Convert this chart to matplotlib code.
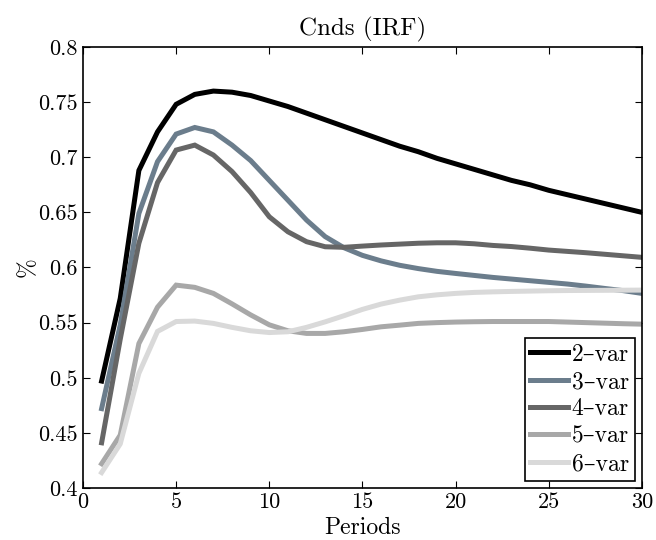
import matplotlib
matplotlib.use("Agg")
import matplotlib.pyplot as plt

plt.rcParams['font.family'] = ['cmr10', 'DejaVu Serif']
plt.rcParams['axes.unicode_minus'] = False
plt.rcParams['mathtext.fontset'] = 'cm'

periods = list(range(1, 31))

var2 = [0.497, 0.572, 0.688, 0.723, 0.748, 0.757, 0.760, 0.759, 0.756, 0.751,
        0.746, 0.740, 0.734, 0.728, 0.722, 0.716, 0.710, 0.705, 0.699, 0.694,
        0.689, 0.684, 0.679, 0.675, 0.670, 0.666, 0.662, 0.658, 0.654, 0.650]
var3 = [0.472, 0.548, 0.649, 0.696, 0.721, 0.727, 0.723, 0.711, 0.697, 0.679,
        0.661, 0.643, 0.628, 0.618, 0.611, 0.606, 0.602, 0.599, 0.5965, 0.5946,
        0.5928, 0.591, 0.5895, 0.588, 0.5865, 0.585, 0.5831, 0.581, 0.579, 0.5765]
var4 = [0.441, 0.535, 0.622, 0.677, 0.7065, 0.711, 0.702, 0.687, 0.668, 0.646,
        0.6324, 0.6234, 0.6188, 0.6183, 0.6194, 0.6204, 0.6212, 0.622, 0.6224, 0.6224,
        0.6215, 0.620, 0.619, 0.6175, 0.6158, 0.6146, 0.6134, 0.612, 0.6106, 0.6092]
var5 = [0.422, 0.448, 0.531, 0.564, 0.584, 0.582, 0.5765, 0.567, 0.557, 0.548,
        0.5426, 0.5402, 0.5402, 0.5417, 0.5438, 0.5462, 0.5477, 0.5493, 0.550, 0.5505,
        0.5508, 0.551, 0.551, 0.551, 0.551, 0.5505, 0.550, 0.5495, 0.549, 0.5486]
var6 = [0.414, 0.440, 0.504, 0.542, 0.551, 0.5514, 0.5493, 0.5457, 0.5426, 0.541,
        0.5417, 0.5457, 0.5507, 0.5562, 0.562, 0.5668, 0.5704, 0.5734, 0.5752, 0.5765,
        0.5774, 0.5779, 0.5783, 0.5786, 0.5789, 0.5791, 0.5792, 0.5793, 0.5794, 0.5795]

series = [var2, var3, var4, var5, var6]
labels = ['2\u2013var', '3\u2013var', '4\u2013var', '5\u2013var', '6\u2013var']
colors = ['#000000', '#6b7d8c', '#666666', '#a8a8a8', '#d9d9d9']

fig = plt.figure(figsize=(6.56, 5.4), dpi=100)
ax = fig.add_axes([0.1265, 0.0963, 0.852, 0.8167])

for y, lab, c in zip(series, labels, colors):
    ax.plot(periods, y, color=c, linewidth=3.6, label=lab, solid_joinstyle='miter')

ax.set_xlim(0, 30)
ax.set_ylim(0.4, 0.8)
ax.set_xticks([0, 5, 10, 15, 20, 25, 30])
ax.set_yticks([0.4, 0.45, 0.5, 0.55, 0.6, 0.65, 0.7, 0.75, 0.8])
ax.set_yticklabels(['0.4', '0.45', '0.5', '0.55', '0.6', '0.65', '0.7', '0.75', '0.8'])
ax.tick_params(direction='in', top=True, right=True, labelsize=16, length=5, width=0.8)
for s in ax.spines.values():
    s.set_linewidth(1.2)

ax.set_title('Cnds (IRF)', fontsize=18, pad=8)
ax.set_xlabel('Periods', fontsize=17, labelpad=3)
ax.set_ylabel('%', fontsize=17, labelpad=0)

leg = ax.legend(loc='lower right', fontsize=17, fancybox=False, framealpha=1,
                edgecolor='black', handlelength=1.6, handletextpad=0.15,
                borderpad=0.25, labelspacing=0.22, borderaxespad=0.3)
leg.get_frame().set_linewidth(1.2)

plt.savefig('out.png', dpi=100)
